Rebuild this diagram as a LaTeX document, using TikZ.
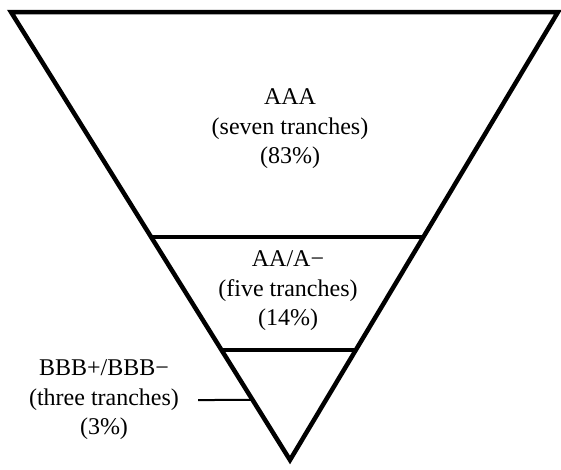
\documentclass[tikz,border=0pt]{standalone}
\usepackage{fontspec}
\setmainfont{Liberation Serif}
\usetikzlibrary{calc}
\begin{document}
\begin{tikzpicture}[x=1pt,y=-1pt,
  edge/.style={line width=4.5pt, line join=miter, miter limit=10},
  lbl/.style={align=center, font=\fontsize{24}{29.5}\selectfont, inner sep=0pt},
  leader/.style={line width=2pt}]
\useasboundingbox (0,0) rectangle (561,469);
\coordinate (tl) at (11,12);
\coordinate (tr) at (558,12);
\coordinate (ap) at (290,460);
\draw[edge] (tl) -- (tr) -- (ap) -- cycle;
\coordinate (u1) at ($(tl)!0.502!(ap)$);
\coordinate (u2) at ($(tr)!0.502!(ap)$);
\coordinate (d1) at ($(tl)!0.754!(ap)$);
\coordinate (d2) at ($(tr)!0.754!(ap)$);
\draw[edge] (u1) -- (u2);
\draw[edge] (d1) -- (d2);
\node[lbl] (aaa) at (290,129) {AAA\\(seven tranches)\\(83\%)};
\node[lbl] (aa) at (288,291) {AA/A−\\(five tranches)\\(14\%)};
\node[lbl] (bbb) at (104,400) {BBB+/BBB−\\(three tranches)\\(3\%)};
\coordinate (ls) at (198,400);
\coordinate (le) at ($(tl)!0.866!(ap)$);
\draw[leader] (ls) -- (le);
\end{tikzpicture}
\end{document}
